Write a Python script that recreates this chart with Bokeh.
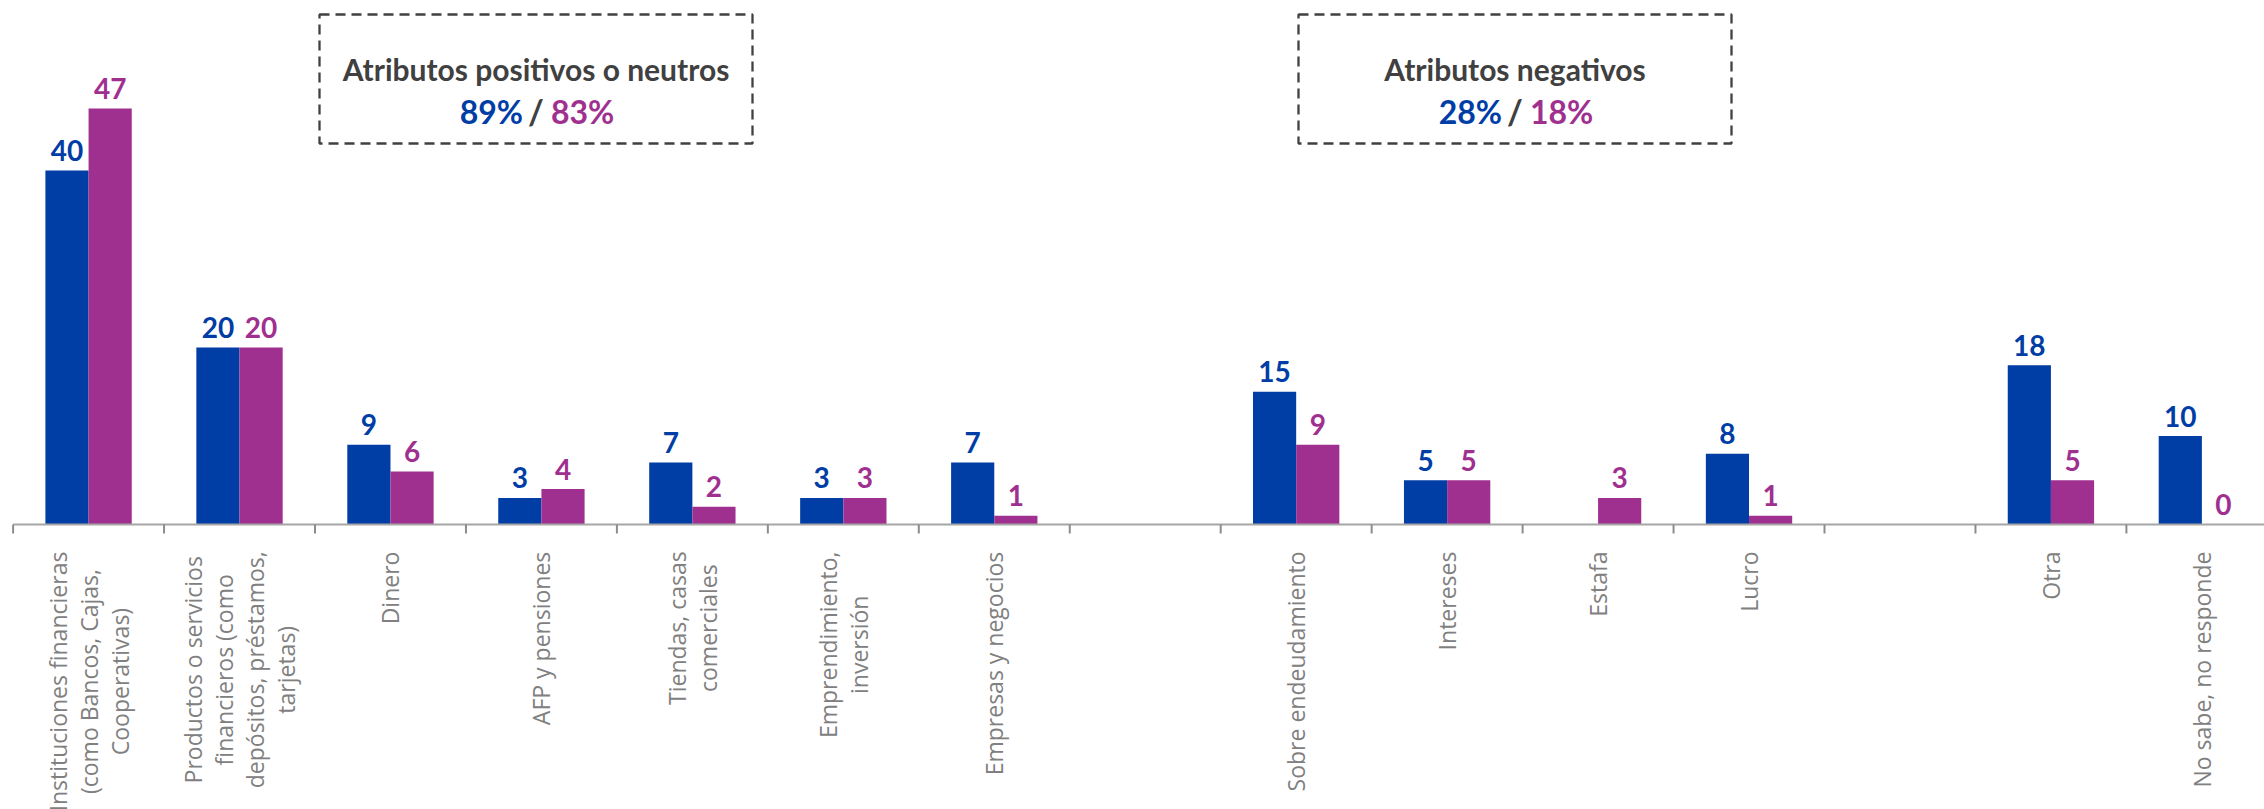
import numpy as np
from bokeh.plotting import figure
from bokeh.models import ColumnDataSource, Range1d, Label, BoxAnnotation
from bokeh.core.properties import value
from bokeh.embed import file_html
from bokeh.resources import INLINE

# ---------------- data ----------------
categories = [
    "Instituciones financieras\n(como Bancos, Cajas,\nCooperativas)",
    "Productos o servicios\nfinancieros (como\ndepósitos, préstamos,\ntarjetas)",
    "Dinero",
    "AFP y pensiones",
    "Tiendas, casas\ncomerciales",
    "Emprendimiento,\ninversión",
    "Empresas y negocios",
    "",
    "Sobre endeudamiento",
    "Intereses",
    "Estafa",
    "Lucro",
    "",
    "Otra",
    "No sabe, no responde",
]
serie_azul = [40, 20, 9, 3, 7, 3, 7, None, 15, 5, None, 8, None, 18, 10]
serie_morada = [47, 20, 6, 4, 2, 3, 1, None, 9, 5, 3, 1, None, 5, 0]

box_titles = ["Atributos positivos o neutros", "Atributos negativos"]
box_azul = ["89%", "28%"]
box_morada = ["83%", "18%"]

# ---------------- style / layout ----------------
BLUE = "#003DA5"
MAGENTA = "#A0308F"
DARK = "#404040"
GRAY_TXT = "#808080"

W, H = 2264, 809
PX_PER_UNIT = 8.85          # vertical pixels per value unit
PX_PER_CAT = 150.95         # horizontal pixels per category
BASE_PX = 524               # baseline position from top of figure
X0_PX = 12.6                # first category boundary from left of figure
LABEL_FS = 23               # category label font size (px)

def vy(px_from_top):
    return (BASE_PX - px_from_top) / PX_PER_UNIT

def vx(px_from_left):
    return (px_from_left - X0_PX) / PX_PER_CAT

# approximate Open Sans advance widths (em) to centre multi-line labels
_W = {" ": .260, ",": .245, "(": .282, ")": .282, "A": .633, "B": .648,
      "C": .631, "D": .729, "E": .560, "F": .520, "I": .291, "L": .513,
      "N": .760, "O": .781, "P": .611, "S": .536, "T": .543,
      "a": .556, "b": .613, "c": .476, "d": .613, "e": .561, "é": .561,
      "f": .339, "g": .548, "h": .614, "i": .253, "j": .253, "k": .525,
      "l": .253, "m": .930, "n": .614, "o": .604, "ó": .604, "p": .613,
      "q": .613, "r": .408, "s": .477, "t": .353, "u": .614, "v": .501,
      "w": .778, "x": .524, "y": .502, "z": .440}

def text_len_px(s):
    return max((sum(_W.get(ch, .55) for ch in line) for line in s.split("\n")),
               default=0) * LABEL_FS

x_start = -X0_PX / PX_PER_CAT
y_top = BASE_PX / PX_PER_UNIT

p = figure(width=W, height=H, output_backend="svg", toolbar_location=None,
           x_range=Range1d(x_start, x_start + W / PX_PER_CAT),
           y_range=Range1d(y_top - H / PX_PER_UNIT, y_top),
           min_border=0, outline_line_color=None)
p.xaxis.visible = False
p.yaxis.visible = False
p.xgrid.visible = False
p.ygrid.visible = False
p.background_fill_color = "white"
p.border_fill_color = "white"

n = len(categories)
idx = np.arange(n)
centers = idx + 0.5
BAR_W = 0.286
off = BAR_W / 2

def series_source(vals, shift):
    xs, ys, ts = [], [], []
    for i, v in enumerate(vals):
        if v is None:
            continue
        xs.append(centers[i] + shift)
        ys.append(v)
        ts.append(str(v))
    return ColumnDataSource(dict(x=xs, top=ys, txt=ts,
                                 ly=[t + 20 / PX_PER_UNIT for t in ys]))

src_b = series_source(serie_azul, -off)
src_m = series_source(serie_morada, off)

p.vbar(x="x", top="top", bottom=0, width=BAR_W, source=src_b,
       fill_color=BLUE, line_color=None)
p.vbar(x="x", top="top", bottom=0, width=BAR_W, source=src_m,
       fill_color=MAGENTA, line_color=None)

# axis line and ticks at category boundaries
p.segment(x0=[0], y0=[0], x1=[n], y1=[0], line_color="#A6A6A6", line_width=2)
bounds = np.arange(n + 1)
p.segment(x0=bounds, y0=np.zeros(n + 1), x1=bounds,
          y1=np.full(n + 1, -9 / PX_PER_UNIT), line_color="#8C8C8C", line_width=2)

# value labels
for src, col in ((src_b, BLUE), (src_m, MAGENTA)):
    p.text(x="x", y="ly", text="txt", source=src, text_align="center",
           text_baseline="alphabetic", text_color=col,
           text_font=value("Lato"), text_font_style="bold",
           text_font_size="28px")

# category labels (rotated, lines centred, block top at 550px)
label_y = [vy(551 + text_len_px(c) / 2) for c in categories]
p.text(x=centers, y=label_y, text=categories, angle=np.pi / 2,
       text_align="center", text_baseline="middle",
       text_color=GRAY_TXT, text_font=value("Open Sans"),
       text_font_size=f"{LABEL_FS}px", text_line_height=0.97)

# annotation boxes
boxes_px = [(319, 752), (1298, 1731)]
for (l, r), title, a, b in zip(boxes_px, box_titles, box_azul, box_morada):
    p.add_layout(BoxAnnotation(left=vx(l), right=vx(r), top=vy(14), bottom=vy(143),
                               fill_alpha=0, line_color=DARK, line_alpha=1,
                               line_width=2.3, line_dash="10 6"))
    cx = vx((l + r) / 2)
    p.add_layout(Label(x=cx, y=vy(68), text=title, text_align="center",
                       text_baseline="alphabetic", text_color=DARK,
                       text_font="Lato", text_font_style="bold",
                       text_font_size="30px"))
    p.add_layout(Label(x=cx, y=vy(111), text="/", text_align="center",
                       text_baseline="alphabetic", text_color=DARK,
                       text_font="Lato", text_font_style="bold",
                       text_font_size="34px"))
    p.add_layout(Label(x=cx, y=vy(111), x_offset=-13, text=a, text_align="right",
                       text_baseline="alphabetic", text_color=BLUE,
                       text_font="Lato", text_font_style="bold",
                       text_font_size="32px"))
    p.add_layout(Label(x=cx, y=vy(111), x_offset=15, text=b, text_align="left",
                       text_baseline="alphabetic", text_color=MAGENTA,
                       text_font="Lato", text_font_style="bold",
                       text_font_size="32px"))

open("out.html", "w").write(file_html(p, INLINE))
